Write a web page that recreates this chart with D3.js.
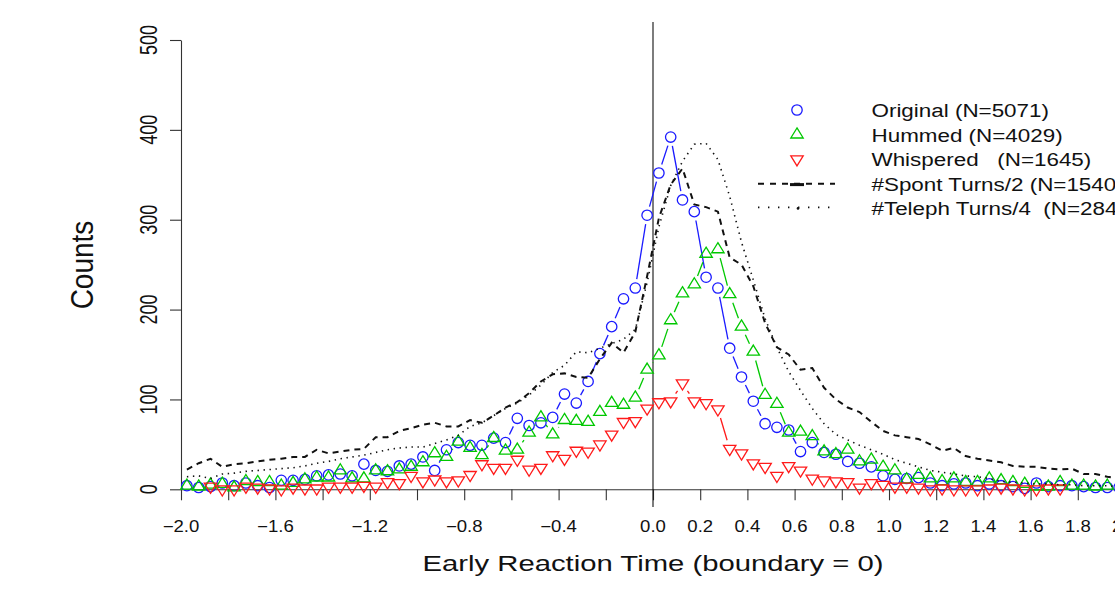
<!DOCTYPE html>
<html>
<head>
<meta charset="utf-8">
<script src="https://cdn.jsdelivr.net/npm/d3@7"></script>
<style>
  html, body { margin: 0; padding: 0; background: #fff; overflow: hidden; }
  svg { display: block; }
  text { font-family: "Liberation Sans", Arial, Helvetica, sans-serif; fill: #111; white-space: pre; }
</style>
</head>
<body>
<svg id="chart" width="1115" height="594" xml:space="preserve"></svg>
<script>
// ---------------- data ----------------
// bin centres: -1.975 ... 1.975 step 0.05 (80 bins)
const binCenters = d3.range(80).map(i => +(-1.975 + 0.05 * i).toFixed(3));

const original = [4, 2, 3, 7, 4, 7, 4, 2, 10, 10, 11, 15, 16, 17, 15, 28, 21, 20, 26, 28,
  36, 21, 44, 52, 49, 49, 57, 52, 79, 71, 74, 80, 106, 96, 120, 151, 181, 212, 224, 305,
  352, 392, 322, 309, 236, 224, 157, 125, 98, 73, 69, 66, 42, 52, 41, 39, 31, 29, 25, 15,
  11, 12, 13, 7, 4, 6, 7, 4, 6, 4, 3, 1, 7, 3, 4, 4, 3, 2, 2, 2];

const hummed = [4, 3, 5, 6, 2, 9, 8, 8, 4, 7, 11, 13, 13, 21, 12, 12, 21, 20, 22, 25,
  30, 40, 36, 53, 46, 38, 57, 43, 44, 63, 80, 61, 77, 76, 75, 86, 96, 94, 102, 133,
  149, 188, 218, 228, 262, 267, 217, 181, 153, 105, 95, 63, 64, 59, 42, 39, 44, 31, 33, 25,
  21, 11, 16, 12, 9, 12, 8, 8, 12, 10, 8, 6, 3, 3, 8, 4, 4, 3, 4, null];

const whispered = [null, null, 3, 0, 0, 3, 2, 1, 0, 2, 1, 1, 3, 3, 3, 4, 3, 8, 7, 15,
  9, 11, 9, 10, 16, 28, 24, 24, 33, 22, 24, 38, 34, 43, 42, 50, 61, 75, 76, 90,
  97, 98, 118, 98, 96, 89, 45, 40, 29, 25, 15, 26, 21, 12, 10, 9, 8, 2, 7, 5,
  3, 3, 2, 0, 1, 0, 0, 0, 1, 2, 1, 0, 0, 1, 1, null, null, null, null, null];

const spontHalf = [22, 29, 34, 25, 28, 29, 31, 33, 34, 36, 36, 44, 40, 42, 44, 45, 58, 58, 65, 68,
  72, 74, 70, 70, 77, 74, 82, 91, 97, 107, 120, 128, 129, 125, 124, 145, 163, 152, 175, 237,
  302, 339, 357, 317, 314, 309, 258, 250, 226, 185, 158, 150, 133, 135, 113, 100, 91, 86, 75, 65,
  60, 58, 56, 50, 43, 46, 37, 34, 32, 30, 26, 25, 25, 23, 22, 23, 17, 17, 14, 12];

const telephQuarter = [14, 15, 12, 17, 18, 20, 21, 22, 23, 24, 26, 29, 31, 34, 36, 38, 41, 44, 46, 47,
  47, 51, 55, 60, 70, 74, 82, 90, 96, 105, 116, 130, 138, 153, 152, 157, 162, 167, 178, 230,
  292, 338, 365, 384, 385, 367, 326, 275, 233, 190, 158, 131, 110, 90, 73, 61, 55, 49, 44, 39,
  33, 29, 25, 21, 19, 17, 15, 14, 12, 9, 8, 7, 6, 6, 5, 5, 4, 4, 4, 3];

const xTickValues = [-2.0, -1.8, -1.6, -1.4, -1.2, -1.0, -0.8, -0.6, -0.4, -0.2, 0.0,
  0.2, 0.4, 0.6, 0.8, 1.0, 1.2, 1.4, 1.6, 1.8, 2.0];
const xTickLabels = ["\u22122.0", "", "\u22121.6", "", "\u22121.2", "", "\u22120.8", "", "\u22120.4", "", "0.0",
  "0.2", "0.4", "0.6", "0.8", "1.0", "1.2", "1.4", "1.6", "1.8", "2.0"];
const yTickValues = [0, 100, 200, 300, 400, 500];
const yTickLabels = ["0", "100", "200", "300", "400", "500"];

const legendLabels = ["Original (N=5071)", "Hummed (N=4029)", "Whispered   (N=1645)",
  "#Spont Turns/2 (N=1540", "#Teleph Turns/4  (N=284"];
const xTitle = "Early Reaction Time (boundary = 0)";
const yTitle = "Counts";

// ---------------- layout ----------------
const svg = d3.select("#chart");
const x = d3.scaleLinear().domain([-2, 2]).range([181, 1125]);
const y = d3.scaleLinear().domain([0, 500]).range([489.3, 40]);

const BLUE = "#1a1aff", GREEN = "#00c800", RED = "#ff1a1a", BLACK = "#111";

// axes
const xAxis = d3.axisBottom(x).tickValues(xTickValues).tickSize(11).tickSizeOuter(0).tickFormat(() => "");
const gx = svg.append("g").attr("transform", `translate(0,${y(0)})`).call(xAxis);
gx.selectAll("path,line").attr("stroke", "#333").attr("stroke-width", 1.1);

const yAxis = d3.axisLeft(y).tickValues(yTickValues).tickSize(11).tickSizeOuter(0).tickFormat(() => "");
const gy = svg.append("g").attr("transform", `translate(${x(-2)},0)`).call(yAxis);
gy.selectAll("path,line").attr("stroke", "#333").attr("stroke-width", 1.1);

// x tick labels
svg.append("g").selectAll("text").data(xTickValues.map((v, i) => ({v, t: xTickLabels[i]})).filter(d => d.t))
  .join("text")
  .attr("transform", d => `translate(${x(d.v)},531.5) scale(1.16,1)`)
  .attr("text-anchor", "middle").attr("font-size", 16).text(d => d.t);

// y tick labels (rotated)
svg.append("g").selectAll("text").data(yTickValues.map((v, i) => ({v, t: yTickLabels[i]})))
  .join("text")
  .attr("transform", d => `translate(157,${y(d.v)}) rotate(-90) scale(1,1.3)`)
  .attr("text-anchor", "middle").attr("font-size", 18).text(d => d.t);

// axis titles
svg.append("text").attr("transform", `translate(${x(0)},571) scale(1.33,1)`)
  .attr("text-anchor", "middle").attr("font-size", 22).text(xTitle);
svg.append("text").attr("transform", `translate(93,265) rotate(-90) scale(1,1.1)`)
  .attr("text-anchor", "middle").attr("font-size", 28).text(yTitle);

// vertical boundary line
svg.append("line").attr("x1", x(0)).attr("x2", x(0)).attr("y1", 22).attr("y2", 507)
  .attr("stroke", BLACK).attr("stroke-width", 1.1);

// ---------------- series ----------------
function pts(vals) {
  return binCenters.map((c, i) => ({x: x(c), y: vals[i] == null ? null : y(vals[i])}));
}

// R-style type "b": segments between points with a gap around each point
function drawTypeB(vals, color) {
  const p = pts(vals);
  const gap = 9;
  const g = svg.append("g");
  for (let i = 0; i < p.length - 1; i++) {
    const a = p[i], b = p[i + 1];
    if (a.y == null || b.y == null) continue;
    const dx = b.x - a.x, dy = b.y - a.y, d = Math.hypot(dx, dy);
    if (d <= 2 * gap) continue;
    const ux = dx / d, uy = dy / d;
    g.append("line")
      .attr("x1", a.x + ux * gap).attr("y1", a.y + uy * gap)
      .attr("x2", b.x - ux * gap).attr("y2", b.y - uy * gap)
      .attr("stroke", color).attr("stroke-width", 1.3);
  }
}

const triUp = "M0,-6.7L6.2,3.4L-6.2,3.4Z";
const triDown = "M0,6.7L6.2,-3.4L-6.2,-3.4Z";

function drawMarkers(vals, color, shape) {
  const p = pts(vals).filter(d => d.y != null);
  const g = svg.append("g");
  if (shape === "circle") {
    g.selectAll("circle").data(p).join("circle")
      .attr("cx", d => d.x).attr("cy", d => d.y).attr("r", 5.2)
      .attr("fill", "none").attr("stroke", color).attr("stroke-width", 1.3);
  } else {
    g.selectAll("path").data(p).join("path")
      .attr("d", shape === "up" ? triUp : triDown)
      .attr("transform", d => `translate(${d.x},${d.y})`)
      .attr("fill", "none").attr("stroke", color).attr("stroke-width", 1.3);
  }
}

drawTypeB(original, BLUE);
drawMarkers(original, BLUE, "circle");
drawTypeB(hummed, GREEN);
drawMarkers(hummed, GREEN, "up");
drawTypeB(whispered, RED);
drawMarkers(whispered, RED, "down");

const line = d3.line().x(d => d.x).y(d => d.y);
svg.append("path").attr("d", line(pts(spontHalf)))
  .attr("fill", "none").attr("stroke", BLACK).attr("stroke-width", 2)
  .attr("stroke-dasharray", "6,5");
svg.append("path").attr("d", line(pts(telephQuarter)))
  .attr("fill", "none").attr("stroke", BLACK).attr("stroke-width", 1.6)
  .attr("stroke-dasharray", "1.4,4.6");

// ---------------- legend ----------------
const legRows = legendLabels.map((t, i) => ({t, cy: 110 + 24.6 * i}));
const lg = svg.append("g");
lg.append("circle").attr("cx", 797).attr("cy", legRows[0].cy).attr("r", 5.2)
  .attr("fill", "none").attr("stroke", BLUE).attr("stroke-width", 1.3);
lg.append("path").attr("d", triUp).attr("transform", `translate(797,${legRows[1].cy})`)
  .attr("fill", "none").attr("stroke", GREEN).attr("stroke-width", 1.3);
lg.append("path").attr("d", triDown).attr("transform", `translate(797,${legRows[2].cy})`)
  .attr("fill", "none").attr("stroke", RED).attr("stroke-width", 1.3);
lg.append("line").attr("x1", 758).attr("x2", 835).attr("y1", legRows[3].cy).attr("y2", legRows[3].cy)
  .attr("stroke", BLACK).attr("stroke-width", 2).attr("stroke-dasharray", "6,6");
lg.append("line").attr("x1", 790).attr("x2", 804).attr("y1", legRows[3].cy + 0.8).attr("y2", legRows[3].cy + 0.8)
  .attr("stroke", BLACK).attr("stroke-width", 3);
lg.append("line").attr("x1", 758).attr("x2", 835).attr("y1", legRows[4].cy - 1).attr("y2", legRows[4].cy - 1)
  .attr("stroke", BLACK).attr("stroke-width", 1.6).attr("stroke-dasharray", "1.4,8.6");
lg.append("circle").attr("cx", 798).attr("cy", legRows[4].cy).attr("r", 1.3).attr("fill", BLACK);

lg.selectAll("text").data(legRows).join("text")
  .attr("transform", d => `translate(871.5,${d.cy + 7}) scale(1.18,1)`)
  .attr("font-size", 19).text(d => d.t);
</script>
</body>
</html>
